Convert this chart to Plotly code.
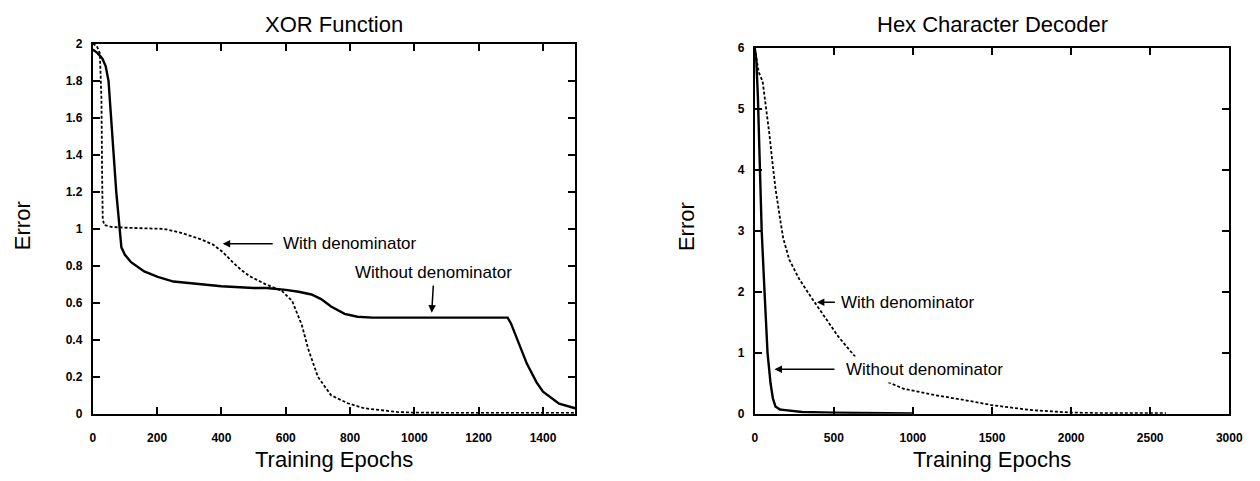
import plotly.graph_objects as go

# XOR function training curves
xor_without_epochs = [0, 15, 30, 40, 49, 58, 65, 73, 83, 89, 100, 119, 160, 202, 251, 334, 400, 500,
                      540, 600, 640, 680, 710, 741, 783, 823, 870, 1050, 1290, 1300, 1320, 1350,
                      1380, 1400, 1450, 1500]
xor_without_error = [1.97, 1.95, 1.92, 1.88, 1.80, 1.60, 1.40, 1.20, 1.00, 0.90, 0.86, 0.82, 0.77,
                     0.74, 0.715, 0.70, 0.69, 0.68, 0.68, 0.67, 0.66, 0.645, 0.62, 0.58, 0.54, 0.525,
                     0.52, 0.52, 0.52, 0.49, 0.40, 0.27, 0.17, 0.12, 0.055, 0.03]

xor_with_epochs = [0, 12, 22, 27, 29, 31, 36, 60, 120, 220, 272, 300, 334, 374, 404, 435, 460, 487,
                   538, 588, 620, 650, 670, 700, 741, 793, 844, 946, 1000, 1200, 1500]
xor_with_error = [2.0, 1.99, 1.95, 1.70, 1.30, 1.05, 1.02, 1.01, 1.005, 1.0, 0.98, 0.965, 0.945,
                  0.915, 0.875, 0.82, 0.78, 0.745, 0.70, 0.665, 0.61, 0.48, 0.35, 0.20, 0.10, 0.057,
                  0.03, 0.01, 0.006, 0.005, 0.005]

# Hex character decoder training curves
hex_without_epochs = [0, 10, 20, 31, 44, 62, 81, 100, 115, 131, 160, 193, 300, 500, 700, 1000]
hex_without_error = [6.0, 5.8, 5.2, 4.0, 3.0, 2.0, 1.0, 0.5, 0.25, 0.12, 0.07, 0.06, 0.03, 0.02,
                     0.01, 0.005]

hex_with_epochs = [0, 10, 25, 50, 70, 92, 112, 131, 162, 180, 218, 281, 362, 443, 530, 624, 700,
                   780, 942, 1154, 1235, 1360, 1504, 1753, 2003, 2200, 2600]
hex_with_error = [6.0, 5.85, 5.6, 5.45, 5.08, 4.6, 4.12, 3.7, 3.17, 2.88, 2.53, 2.21, 1.89, 1.58,
                  1.26, 0.97, 0.75, 0.59, 0.41, 0.30, 0.26, 0.21, 0.14, 0.06, 0.02, 0.01, 0.01]

xor_xticks = [0, 200, 400, 600, 800, 1000, 1200, 1400]
xor_yticks = [0, 0.2, 0.4, 0.6, 0.8, 1, 1.2, 1.4, 1.6, 1.8, 2]
hex_xticks = [0, 500, 1000, 1500, 2000, 2500, 3000]
hex_yticks = [0, 1, 2, 3, 4, 5, 6]

FONT = "Liberation Sans, Arial, Helvetica, sans-serif"
W, H = 1260, 481

solid = dict(color="black", width=2.4)
dotted = dict(color="black", width=1.8, dash="3px,2px")

fig = go.Figure()
fig.add_trace(go.Scatter(x=xor_without_epochs, y=xor_without_error, mode="lines", line=solid,
                         xaxis="x", yaxis="y"))
fig.add_trace(go.Scatter(x=xor_with_epochs, y=xor_with_error, mode="lines", line=dotted,
                         xaxis="x", yaxis="y"))
fig.add_trace(go.Scatter(x=hex_without_epochs, y=hex_without_error, mode="lines", line=solid,
                         xaxis="x2", yaxis="y2"))
fig.add_trace(go.Scatter(x=hex_with_epochs, y=hex_with_error, mode="lines", line=dotted,
                         xaxis="x2", yaxis="y2"))


def px_x(p):
    return p / W


def px_y(p):
    return (H - p) / H


axis_common = dict(
    showline=True, linecolor="black", linewidth=2, mirror="ticks",
    ticks="inside", ticklen=7, tickwidth=1.5, tickcolor="black",
    showgrid=False, zeroline=False,
    tickfont=dict(family=FONT, size=12, color="black", weight="bold"),
)

fig.update_layout(
    width=W, height=H,
    margin=dict(l=0, r=0, t=0, b=0),
    paper_bgcolor="white", plot_bgcolor="white",
    showlegend=False,
    font=dict(family=FONT, color="black"),
    xaxis=dict(domain=[px_x(91), px_x(580)], range=[0, 1500], tickvals=xor_xticks,
               anchor="y", ticklabelstandoff=12, **axis_common),
    yaxis=dict(domain=[px_y(419), px_y(38)], range=[0, 2], tickvals=xor_yticks,
               anchor="x", ticklabelstandoff=6, **axis_common),
    xaxis2=dict(domain=[px_x(762), px_x(1243)], range=[0, 3000], tickvals=hex_xticks,
                anchor="y2", ticklabelstandoff=12, **axis_common),
    yaxis2=dict(domain=[px_y(419), px_y(42)], range=[0, 6], tickvals=hex_yticks,
                anchor="x2", ticklabelstandoff=6, **axis_common),
)

big = dict(family=FONT, size=22, color="black")
label = dict(family=FONT, size=17, color="black")

annotations = [
    # titles
    dict(text="XOR Function", x=px_x(335.5), y=px_y(18), xref="paper", yref="paper",
         showarrow=False, font=big, xanchor="center", yanchor="middle"),
    dict(text="Hex Character Decoder", x=px_x(1003), y=px_y(18), xref="paper", yref="paper",
         showarrow=False, font=big, xanchor="center", yanchor="middle"),
    # axis titles
    dict(text="Training Epochs", x=px_x(335.5), y=px_y(466), xref="paper", yref="paper",
         showarrow=False, font=big, xanchor="center", yanchor="middle"),
    dict(text="Training Epochs", x=px_x(1003), y=px_y(466), xref="paper", yref="paper",
         showarrow=False, font=big, xanchor="center", yanchor="middle"),
    dict(text="Error", x=px_x(20), y=px_y(225), xref="paper", yref="paper", textangle=-90,
         showarrow=False, font=big, xanchor="center", yanchor="middle"),
    dict(text="Error", x=px_x(693), y=px_y(226), xref="paper", yref="paper", textangle=-90,
         showarrow=False, font=big, xanchor="center", yanchor="middle"),
    # curve labels, XOR
    dict(text="With denominator", x=404, y=0.92, xref="x", yref="y",
         showarrow=True, ax=58, ay=0, xanchor="left", yanchor="middle",
         arrowhead=2, arrowsize=1, arrowwidth=1.5, arrowcolor="black",
         startstandoff=8, font=label),
    dict(text="Without denominator", x=1053, y=0.52, xref="x", yref="y",
         showarrow=True, ax=2, ay=-34, xanchor="center", yanchor="bottom",
         arrowhead=2, arrowsize=1, arrowwidth=1.5, arrowcolor="black",
         standoff=5, startstandoff=2, font=label),
    # curve labels, hex decoder
    dict(text="With denominator", x=393, y=1.83, xref="x2", yref="y2",
         showarrow=True, ax=22, ay=0, xanchor="left", yanchor="middle",
         arrowhead=2, arrowsize=1, arrowwidth=1.5, arrowcolor="black",
         startstandoff=4, font=label),
    dict(text="Without denominator", x=125, y=0.73, xref="x2", yref="y2",
         showarrow=True, ax=68, ay=0, xanchor="left", yanchor="middle",
         arrowhead=2, arrowsize=1, arrowwidth=1.5, arrowcolor="black",
         startstandoff=8, bgcolor="white", borderpad=3, font=label),
]
fig.update_layout(annotations=annotations)

fig.write_html("out.html")
